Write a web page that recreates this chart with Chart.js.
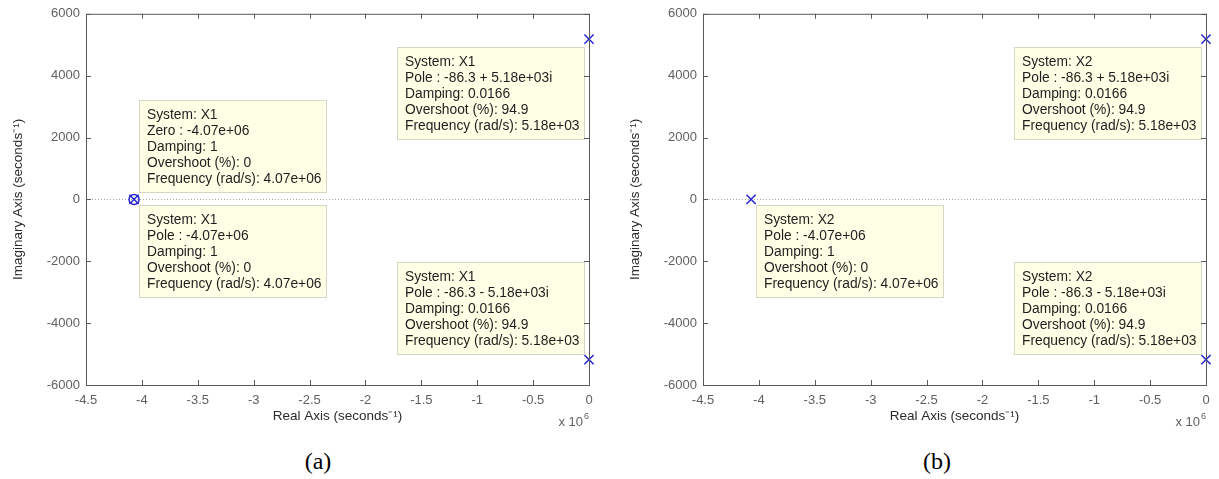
<!DOCTYPE html>
<html>
<head>
<meta charset="utf-8">
<script src="https://cdn.jsdelivr.net/npm/chart.js@4.4.0/dist/chart.umd.min.js"></script>
<style>
  body { margin: 0; background: #fff; width: 1219px; height: 479px; overflow: hidden; position: relative; font-family: Arial, "Liberation Sans", sans-serif; }
  .panel { position: absolute; top: 0; width: 609px; height: 440px; }
  .cap { position: absolute; top: 448px; width: 80px; line-height: 28px; text-align: center; font: 24px "Liberation Serif", "Times New Roman", serif; color: #000; }
</style>
</head>
<body>
<div class="panel" style="left:0"><canvas id="chartA" width="609" height="440"></canvas></div>
<div class="panel" style="left:617px"><canvas id="chartB" width="609" height="440"></canvas></div>
<div class="cap" style="left:278px">(a)</div>
<div class="cap" style="left:897px">(b)</div>
<script>
// pole / zero locations (same plant for X1 and X2, X1 also has a zero)
const poleRe = [-4.07e6, -86.3, -86.3];
const poleIm = [0, 5180, -5180];
const zeroRe = [-4.07e6];
const zeroIm = [0];

// data tip texts
const poleText = ['-4.07e+06', '-86.3 + 5.18e+03i', '-86.3 - 5.18e+03i'];
const poleDamping = ['1', '0.0166', '0.0166'];
const poleOvershoot = ['0', '94.9', '94.9'];
const poleFreq = ['4.07e+06', '5.18e+03', '5.18e+03'];
const zeroText = ['-4.07e+06'];
const zeroDamping = ['1'];
const zeroOvershoot = ['0'];
const zeroFreq = ['4.07e+06'];

const xTickStep = 5e5;
const yTicks = [-6000, -4000, -2000, 0, 2000, 4000, 6000];
const blue = '#2424d6';
const FONT = 'Arial, "Liberation Sans", sans-serif';

function tipLines(sys, kind, i) {
  if (kind === 'zero') {
    return ['System: ' + sys, 'Zero : ' + zeroText[i], 'Damping: ' + zeroDamping[i],
            'Overshoot (%): ' + zeroOvershoot[i], 'Frequency (rad/s): ' + zeroFreq[i]];
  }
  return ['System: ' + sys, 'Pole : ' + poleText[i], 'Damping: ' + poleDamping[i],
          'Overshoot (%): ' + poleOvershoot[i], 'Frequency (rad/s): ' + poleFreq[i]];
}

const matlabFrame = {
  id: 'matlabFrame',
  beforeDatasetsDraw(chart) {
    const { ctx, chartArea: a, scales: { y } } = chart;
    const y0 = Math.round(y.getPixelForValue(0)) + 0.5;
    ctx.save();
    ctx.strokeStyle = '#a8a8a8';
    ctx.lineWidth = 1;
    ctx.setLineDash([1, 2]);
    ctx.beginPath();
    ctx.moveTo(a.left, y0);
    ctx.lineTo(a.right, y0);
    ctx.stroke();
    ctx.restore();
  },
  afterDatasetsDraw(chart, args, opts) {
    const { ctx, scales: { x, y } } = chart;
    const w = 187, h = 92;
    ctx.save();
    opts.tips.forEach(t => {
      const re = t.kind === 'zero' ? zeroRe[t.i] : poleRe[t.i];
      const im = t.kind === 'zero' ? zeroIm[t.i] : poleIm[t.i];
      const px = x.getPixelForValue(re), py = y.getPixelForValue(im);
      const left = Math.round(t.side === 'right' ? px + t.dx : px - t.dx - w);
      const top = Math.round(t.below ? py + t.dy : py - t.dy - h);
      ctx.fillStyle = '#ffffe6';
      ctx.strokeStyle = '#d6d6c6';
      ctx.lineWidth = 1;
      ctx.fillRect(left, top, w, h);
      ctx.strokeRect(left + 0.5, top + 0.5, w, h);
      ctx.fillStyle = '#1e1e1e';
      ctx.font = '13.8px ' + FONT;
      ctx.textBaseline = 'middle';
      ctx.textAlign = 'left';
      tipLines(opts.sys, t.kind, t.i).forEach((s, k) => {
        ctx.fillText(s, left + 8, top + 15 + k * 16);
      });
    });
    ctx.restore();
  },
  afterDraw(chart) {
    const { ctx, chartArea: a, scales: { x, y } } = chart;
    ctx.save();
    ctx.strokeStyle = '#5a5a5a';
    ctx.lineWidth = 1;
    ctx.strokeRect(a.left + 0.5, a.top + 0.5, a.right - a.left, a.bottom - a.top);
    ctx.beginPath();
    x.ticks.forEach(tk => {
      const p = Math.round(x.getPixelForValue(tk.value)) + 0.5;
      ctx.moveTo(p, a.bottom); ctx.lineTo(p, a.bottom - 5);
      ctx.moveTo(p, a.top); ctx.lineTo(p, a.top + 5);
    });
    y.ticks.forEach(tk => {
      const p = Math.round(y.getPixelForValue(tk.value)) + 0.5;
      ctx.moveTo(a.left, p); ctx.lineTo(a.left + 5, p);
      ctx.moveTo(a.right, p); ctx.lineTo(a.right - 5, p);
    });
    ctx.stroke();
    // x 10^6 exponent label
    ctx.fillStyle = '#606060';
    ctx.textBaseline = 'middle';
    ctx.textAlign = 'right';
    ctx.font = '13px ' + FONT;
    ctx.fillText('x 10', a.right - 6, a.bottom + 37);
    ctx.textAlign = 'left';
    ctx.font = '9px ' + FONT;
    ctx.fillText('6', a.right - 5, a.bottom + 32);
    ctx.restore();
  }
};

function makeChart(id, sys, withZero, tips) {
  const datasets = [];
  if (withZero) {
    datasets.push({
      label: 'Zero',
      data: zeroRe.map((r, i) => ({ x: r, y: zeroIm[i] })),
      pointStyle: 'circle', pointRadius: 5, borderColor: blue,
      backgroundColor: 'rgba(0,0,0,0)', borderWidth: 1.5, showLine: false, clip: false
    });
  }
  datasets.push({
    label: 'Pole',
    data: poleRe.map((r, i) => ({ x: r, y: poleIm[i] })),
    pointStyle: 'crossRot', pointRadius: 6.5, borderColor: blue,
    backgroundColor: blue, borderWidth: 1.5, showLine: false, clip: false
  });

  return new Chart(document.getElementById(id).getContext('2d'), {
    type: 'scatter',
    data: { datasets },
    plugins: [matlabFrame],
    options: {
      responsive: false,
      animation: false,
      layout: { padding: { left: 0, right: 20, top: 13, bottom: 0 } },
      plugins: {
        legend: { display: false },
        tooltip: { enabled: false },
        matlabFrame: { sys, tips }
      },
      scales: {
        x: {
          min: -4.5e6, max: 0,
          grid: { display: false, drawTicks: false },
          border: { display: false },
          afterFit: s => { s.height = 55; },
          ticks: {
            stepSize: xTickStep, padding: 8, color: '#606060',
            font: { family: FONT, size: 13 },
            maxRotation: 0, autoSkip: false,
            callback: v => String(Math.round(v / 1e5) / 10)
          },
          title: {
            display: true, text: 'Real Axis (seconds⁻¹)', color: '#2a2a2a',
            font: { family: FONT, size: 13.5 },
            padding: { top: 0, bottom: 16 }
          }
        },
        y: {
          min: yTicks[0], max: yTicks[yTicks.length - 1],
          grid: { display: false, drawTicks: false },
          border: { display: false },
          afterFit: s => { s.width = 86; },
          afterBuildTicks: s => { s.ticks = yTicks.map(v => ({ value: v })); },
          ticks: {
            padding: 6, color: '#606060',
            font: { family: FONT, size: 13 },
            callback: v => String(v)
          },
          title: {
            display: true, text: 'Imaginary Axis (seconds⁻¹)', color: '#2a2a2a',
            font: { family: FONT, size: 13.5 },
            padding: { top: 10, bottom: 0 }
          }
        }
      }
    }
  });
}

makeChart('chartA', 'X1', true, [
  { kind: 'pole', i: 1, side: 'left', dx: 5, below: true, dy: 8 },
  { kind: 'zero', i: 0, side: 'right', dx: 5, below: false, dy: 7 },
  { kind: 'pole', i: 0, side: 'right', dx: 5, below: true, dy: 6 },
  { kind: 'pole', i: 2, side: 'left', dx: 5, below: false, dy: 6 }
]);
makeChart('chartB', 'X2', false, [
  { kind: 'pole', i: 1, side: 'left', dx: 5, below: true, dy: 8 },
  { kind: 'pole', i: 0, side: 'right', dx: 5, below: true, dy: 6 },
  { kind: 'pole', i: 2, side: 'left', dx: 5, below: false, dy: 6 }
]);
</script>
</body>
</html>
